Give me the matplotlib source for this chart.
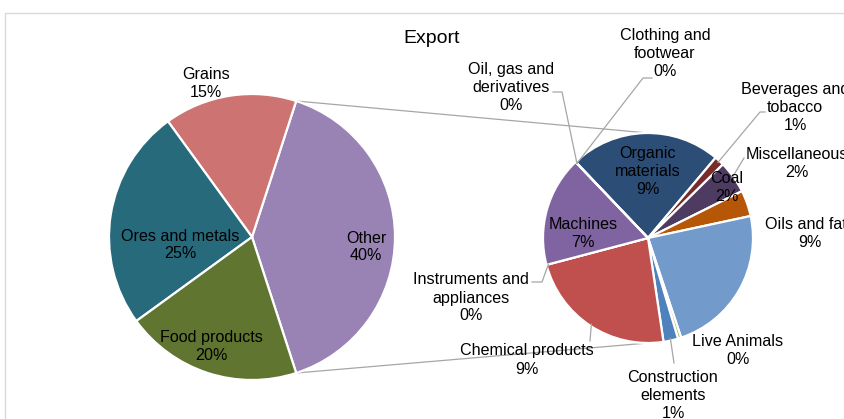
import numpy as np
import matplotlib.pyplot as plt
from matplotlib.patches import Rectangle

W, H = 845, 419

title = "Export"

# first pie (share of total export, %), "Other" is the sum of the second pie
main_cats = ["Grains", "Ores and metals", "Food products"]
main_vals = [15, 25, 20]
main_colors = ["#CD7371", "#276A7C", "#5F7530"]
other_color = "#9983B5"

# second pie, clockwise from the top-left
sub_cats = ["Organic\nmaterials", "Beverages and\ntobacco", "Miscellaneous", "Coal",
            "Oils and fats", "Live Animals", "Construction\nelements", "Chemical products",
            "Instruments and\nappliances", "Machines", "Oil, gas and\nderivatives",
            "Clothing and\nfootwear"]
sub_vals = [9.3, 0.6, 2.0, 1.6, 9.3, 0.2, 0.9, 9.3, 0.0, 6.8, 0.0, 0.0]
sub_colors = ["#2C4D75", "#772C2A", "#4D3B62", "#B65708", "#729ACA", "#9BBB59",
              "#4F81BD", "#C0504D", "#4BACC6", "#8064A2", "#F79646", "#AFC97A"]

other_val = sum(sub_vals)

# layout, image pixels (y down)
c1, r1 = (252, 237), 143
c2, r2 = (648, 238), 105
sub_start = 133.6

main_pos = {"Other": (366, 247), "Grains": (206, 83.5), "Ores and metals": (180, 245),
            "Food products": (211, 346.5)}
sub_pos = [(648, 171.5), (795, 107.5), (797, 163.5), (727, 187), (810, 233),
           (738, 350), (673, 396), (527, 360), (471, 298), (583, 233),
           (511, 87.5), (665, 53.5)]
# leader line points next to the label (image pixels); None = no leader
leader_from = [None, [(765, 112), (760, 112)], [(744, 158)], None, None, None,
               [(674, 363)], [(590, 341)], [(532, 282), (542, 282)], None,
               [(553, 92), (562, 92)], [(652, 78), (643, 78)]]


def Y(y):
    return H - y


fig = plt.figure(figsize=(W / 100, H / 100), dpi=100)
ax = fig.add_axes([0, 0, 1, 1])
plt.rcParams['font.family'] = ['Liberation Sans', 'DejaVu Sans']
fs = 11.6
ls = 1.25
line_c = "#A6A6A6"

# first pie: Other centred on the right
vals1 = [other_val] + main_vals
cols1 = [other_color] + main_colors
ax.pie(vals1, colors=cols1, startangle=-other_val / sum(vals1) * 180,
       center=(c1[0], Y(c1[1])), radius=r1, counterclock=True,
       wedgeprops=dict(edgecolor="white", linewidth=1.6))

ax.pie(sub_vals, colors=sub_colors, startangle=sub_start, counterclock=False,
       center=(c2[0], Y(c2[1])), radius=r2,
       wedgeprops=dict(edgecolor="white", linewidth=1.6))

# connector lines between the two pies
half = other_val / sum(vals1) * np.pi
for s in (1, -1):
    x0 = c1[0] + r1 * np.cos(half)
    y0 = Y(c1[1]) + s * r1 * np.sin(half)
    ax.plot([x0, c2[0]], [y0, Y(c2[1]) + s * r2], color=line_c, lw=0.9, zorder=0)

# labels of first pie
for name, v in zip(["Other"] + main_cats, vals1):
    x, y = main_pos[name]
    ax.text(x, Y(y), f"{name}\n{v / sum(vals1) * 100:.0f}%", ha="center", va="center",
            fontsize=fs, linespacing=ls, color="black")

# labels and leaders of second pie
cum = 0.0
for name, v, pos, lf in zip(sub_cats, sub_vals, sub_pos, leader_from):
    mid = np.deg2rad(sub_start - (cum + v / 2) / other_val * 360)
    cum += v
    ax.text(pos[0], Y(pos[1]), f"{name}\n{v:.0f}%", ha="center", va="center",
            fontsize=fs, linespacing=ls, color="black")
    if lf is not None:
        ex = c2[0] + (r2 - 2) * np.cos(mid)
        ey = Y(c2[1]) + (r2 - 2) * np.sin(mid)
        xs = [p[0] for p in lf] + [ex]
        ys = [Y(p[1]) for p in lf] + [ey]
        ax.plot(xs, ys, color=line_c, lw=0.9)

ax.text(432, Y(38), title, ha="center", va="center", fontsize=14, color="black")

ax.add_patch(Rectangle((5.5, -10), W + 20, Y(12.5) + 10, fill=False,
                       edgecolor="#D9D9D9", lw=1))

ax.set_xlim(0, W)
ax.set_ylim(0, H)
ax.set_aspect("equal")
ax.axis("off")
fig.savefig("out.png", dpi=100)
